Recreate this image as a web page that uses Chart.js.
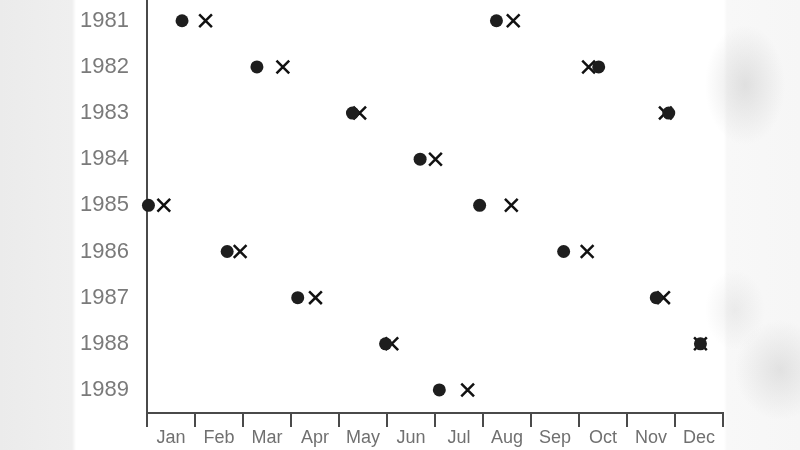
<!DOCTYPE html>
<html>
<head>
<meta charset="utf-8">
<script src="https://cdn.jsdelivr.net/npm/chart.js@4/dist/chart.umd.min.js"></script>
<style>
  html, body { margin: 0; padding: 0; }
  #wrap {
    width: 800px; height: 450px;
    background:
      radial-gradient(ellipse 40px 60px at 745px 85px, rgba(200,200,200,0.5), rgba(255,255,255,0)),
      radial-gradient(ellipse 45px 50px at 780px 370px, rgba(200,200,200,0.45), rgba(255,255,255,0)),
      radial-gradient(ellipse 30px 40px at 735px 310px, rgba(210,210,210,0.35), rgba(255,255,255,0)),
      linear-gradient(to right, #ebebeb 0px, #efefef 72px, #ffffff 76px, #ffffff 724px, #f8f8f8 727px, #f6f6f6 800px);
  }
</style>
</head>
<body>
<div id="wrap"><canvas id="cc" width="800" height="450"></canvas></div>
<script>
// months on the x axis, years on the y axis
const months = ["Jan","Feb","Mar","Apr","May","Jun","Jul","Aug","Sep","Oct","Nov","Dec"];
const years = [1981,1982,1983,1984,1985,1986,1987,1988,1989];

// filled dots (x in months from start of Jan)
const dotYear  = [1981,1981,1982,1982,1983,1983,1984,1985,1985,1986,1986,1987,1987,1988,1988,1989];
const dotMonth = [0.73,7.28,2.29,9.41,4.28,10.87,5.69,0.03,6.93,1.67,8.68,3.14,10.61,4.97,11.53,6.09];

// crosses
const crossYear  = [1981,1981,1982,1982,1983,1983,1984,1985,1985,1986,1986,1987,1987,1988,1988,1989];
const crossMonth = [1.22,7.63,2.83,9.20,4.43,10.80,6.01,0.35,7.59,1.94,9.17,3.51,10.76,5.10,11.53,6.68];

function toPoints(xs, ys){
	let pts = [];
	for(let i=0; i<xs.length; i++){
		pts.push({x: xs[i], y: ys[i]});
	}
	return pts;
}

const font = "'Liberation Sans', Arial, Helvetica, sans-serif";

let chartId = document.getElementById("cc");
let chart = new Chart(chartId, {
	type: "scatter",
	data: {
		datasets: [
			{
				label: "dots",
				data: toPoints(dotMonth, dotYear),
				pointStyle: "circle",
				pointRadius: 6.5,
				backgroundColor: "#1e1e1e",
				borderWidth: 0,
				clip: false
			},
			{
				label: "crosses",
				data: toPoints(crossMonth, crossYear),
				pointStyle: "crossRot",
				pointRadius: 9,
				borderColor: "#111111",
				borderWidth: 2.5,
				clip: false
			}
		]
	},
	options: {
		responsive: false,
		devicePixelRatio: 1,
		animation: false,
		layout: { autoPadding: false, padding: { left: 0, right: 77, top: 0, bottom: 0 } },
		plugins: {
			legend: { display: false },
			tooltip: { enabled: false }
		},
		scales: {
			x: {
				type: "linear",
				min: 0,
				max: 12,
				afterBuildTicks: (axis) => {
					let t = [];
					for(let i=0; i<=12; i++){
						t.push({value: i});
						if(i < 12) t.push({value: i + 0.5});
					}
					axis.ticks = t;
				},
				afterFit: (axis) => {
					axis.height = 37;
					axis.paddingLeft = 0;
					axis.paddingRight = 0;
				},
				grid: {
					drawOnChartArea: false,
					drawTicks: true,
					tickLength: 14,
					lineWidth: 2,
					color: (ctx) => (ctx.tick && ctx.tick.value % 1 === 0) ? "#4a4a4a" : "rgba(0,0,0,0)"
				},
				border: { display: true, color: "#4a4a4a", width: 2 },
				ticks: {
					autoSkip: false,
					maxRotation: 0,
					padding: 0,
					color: "#707070",
					font: { family: font, size: 18 },
					callback: (value) => (value % 1 !== 0) ? months[Math.floor(value)] : ""
				}
			},
			y: {
				type: "linear",
				reverse: true,
				min: 1980.55,
				max: 1989.5,
				afterBuildTicks: (axis) => {
					axis.ticks = years.map(v => ({value: v}));
				},
				afterFit: (axis) => {
					axis.width = 147;
					axis.paddingTop = 0;
					axis.paddingBottom = 0;
				},
				grid: { display: false, drawTicks: false },
				border: { display: true, color: "#4a4a4a", width: 2 },
				ticks: {
					padding: 18,
					color: "#7a7a7a",
					font: { family: font, size: 22 },
					callback: (value) => String(value)
				}
			}
		}
	}
});
</script>
</body>
</html>
